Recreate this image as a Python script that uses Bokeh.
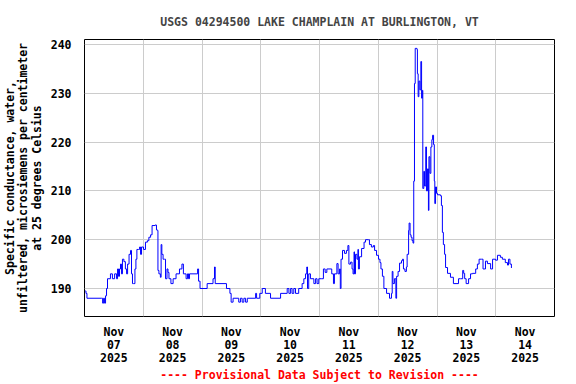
from bokeh.plotting import figure
from bokeh.models import Range1d, FixedTicker
from bokeh.embed import file_html
from bokeh.resources import INLINE

# hours since Nov 07 2025 00:00
hours = [0.3, 0.6, 1.0, 6.9, 7.4, 7.8, 8.2, 8.6, 9.0, 9.4, 10.6, 11.4, 12.3, 13.1, 13.5, 13.9, 14.3, 14.7,
         15.1, 15.5, 16.1, 16.7, 17.2, 17.6, 18.2, 18.8, 19.2, 19.6, 20.0, 20.6, 21.0, 21.4, 22.1, 22.5,
         22.9, 23.3, 24.1, 24.9, 25.7, 26.3, 27.0, 27.6, 28.8, 29.4, 29.8, 30.0, 30.4, 31.0, 31.3, 31.6,
         32.1, 32.7, 33.1, 33.7, 34.1, 34.5, 35.3, 36.2, 37.4, 38.8, 39.8, 40.4, 41.5, 42.1, 42.5, 42.9,
         46.2, 46.6, 47.2, 50.1, 52.5, 53.1, 53.4, 58.0, 59.4, 59.9, 60.7, 63.0, 63.7, 64.4, 65.1, 65.8,
         66.5, 69.9, 70.3, 71.6, 72.6, 73.9, 76.0, 80.1, 82.8, 83.5, 84.2, 84.8, 85.5, 86.2, 87.5, 88.9,
         89.6, 90.3, 90.8, 91.1, 91.6, 92.3, 93.7, 94.4, 95.0, 95.7, 96.7, 97.6, 98.3, 99.0, 101.0, 101.7,
         102.1, 103.1, 103.6, 104.2, 104.5, 104.8, 105.4, 106.2, 107.0, 107.6, 108.0, 108.7, 109.3, 109.7,
         110.1, 110.3, 110.7, 111.3, 111.7, 111.9, 112.3, 113.2, 114.2, 114.8, 116.0, 116.4, 117.2, 118.0,
         118.5, 119.3, 120.1, 120.7, 121.1, 121.7, 122.3, 123.4, 124.6, 125.4, 125.7, 126.0, 126.6, 127.2,
         127.5, 128.1, 128.7, 129.5, 129.9, 130.3, 130.9, 131.5, 131.8, 132.4, 132.6, 133.0, 133.4, 133.8,
         134.2, 134.5, 134.8, 135.1, 135.8, 136.0, 136.3, 136.6, 137.0, 137.4, 137.7, 138.0, 138.2, 138.6,
         138.9, 139.4, 139.7, 140.1, 140.5, 140.7, 141.1, 141.5, 141.9, 142.2, 142.6, 142.9, 143.1, 143.4,
         143.8, 144.2, 145.4, 145.8, 146.2, 146.6, 147.1, 147.5, 148.3, 149.5, 150.7, 152.8, 153.6, 154.5,
         154.9, 155.3, 155.9, 156.9, 157.7, 158.5, 159.8, 160.5, 161.2, 162.2, 162.8, 163.8, 164.6, 165.9,
         166.7, 167.9, 168.7, 169.9, 170.7, 171.9, 172.8, 173.2, 173.8, 174.4]
conductance = [189.5, 189.0, 188.0, 188.0, 187.0, 188.0, 187.0, 188.5, 190.0, 192.0, 193.0, 192.0, 193.0,
               192.0, 194.0, 192.5, 194.0, 195.0, 193.0, 196.0, 195.5, 194.0, 193.0, 195.0, 197.0, 197.8,
               193.0, 191.0, 191.0, 194.0, 196.0, 198.0, 198.0, 198.5, 197.0, 198.5, 198.0, 199.5, 199.8,
               200.5, 201.0, 202.9, 203.0, 202.0, 201.9, 193.7, 193.0, 192.3, 199.0, 197.0, 196.0, 196.0,
               192.0, 194.0, 193.3, 192.0, 191.0, 192.0, 193.0, 194.0, 195.0, 193.0, 192.0, 193.0, 192.0,
               193.0, 194.0, 191.5, 190.0, 191.0, 192.0, 194.4, 191.0, 190.0, 189.0, 187.2, 188.0, 187.2,
               188.0, 187.2, 188.0, 187.2, 188.0, 189.0, 188.0, 189.0, 190.0, 189.0, 188.0, 189.0, 190.0,
               189.0, 190.0, 189.0, 190.0, 189.0, 190.0, 191.0, 192.0, 193.0, 194.4, 190.0, 193.0, 192.0,
               191.0, 192.0, 191.0, 192.0, 192.0, 194.0, 193.3, 194.0, 193.0, 191.0, 193.0, 195.1, 193.0,
               194.0, 190.0, 196.0, 197.8, 197.2, 197.8, 198.8, 195.0, 195.4, 194.0, 193.0, 197.5, 193.0,
               197.0, 196.0, 198.0, 194.0, 196.5, 198.2, 199.5, 200.0, 200.0, 199.0, 198.5, 198.8, 197.8,
               196.8, 196.0, 195.3, 194.0, 192.5, 190.0, 189.0, 188.0, 189.0, 193.5, 191.0, 192.0, 188.0,
               192.5, 193.5, 195.2, 195.7, 196.0, 194.0, 193.5, 194.4, 197.0, 201.9, 203.4, 201.0, 200.5,
               199.8, 199.3, 212.0, 232.0, 239.2, 239.0, 234.0, 229.3, 232.5, 230.7, 236.5, 229.0, 230.6,
               210.5, 214.0, 211.0, 219.0, 210.0, 214.5, 206.0, 217.0, 213.6, 219.0, 220.5, 221.4, 219.5,
               212.0, 207.4, 210.8, 209.5, 209.2, 209.0, 207.0, 201.5, 199.0, 197.0, 194.3, 193.1, 192.3,
               191.0, 192.0, 192.0, 193.7, 193.1, 192.0, 191.0, 192.0, 193.0, 193.1, 194.0, 195.0, 196.0,
               196.0, 194.0, 195.6, 195.1, 194.0, 196.0, 195.8, 196.8, 196.4, 196.0, 195.3, 194.8, 196.0,
               195.0, 194.2]

grid_hours = [24, 48, 72, 96, 120, 144, 168]
label_hours = [12, 36, 60, 84, 108, 132, 156, 180]
label_text = ["Nov\n07\n2025", "Nov\n08\n2025", "Nov\n09\n2025", "Nov\n10\n2025",
              "Nov\n11\n2025", "Nov\n12\n2025", "Nov\n13\n2025", "Nov\n14\n2025"]
y_ticks = [190, 200, 210, 220, 230, 240]

FONT = "DejaVu Sans Mono"
FS = "11.5px"

p = figure(width=576, height=384, output_backend="svg", toolbar_location=None,
           x_range=Range1d(0, 192), y_range=Range1d(184.26, 241.02),
           min_border_left=84, min_border_right=22, min_border_top=39, min_border_bottom=68)

p.step(hours, conductance, mode="after", line_color="#0000ff", line_width=1)

p.title.text = "USGS 04294500 LAKE CHAMPLAIN AT BURLINGTON, VT"
p.title.align = "center"
p.title.text_font = FONT
p.title.text_font_style = "bold"
p.title.text_font_size = FS
p.title.standoff = 22

p.outline_line_color = "black"
p.outline_line_width = 1
p.background_fill_color = "white"
p.border_fill_color = "white"

p.xaxis.ticker = FixedTicker(ticks=label_hours)
p.xaxis.major_label_overrides = {h: t for h, t in zip(label_hours, label_text)}
p.xgrid.ticker = FixedTicker(ticks=grid_hours)
p.yaxis.ticker = FixedTicker(ticks=y_ticks)

for ax in (p.xaxis[0], p.yaxis[0]):
    ax.axis_line_color = None
    ax.major_tick_line_color = None
    ax.minor_tick_line_color = None
    ax.major_label_text_font = FONT
    ax.major_label_text_font_style = "bold"
    ax.major_label_text_font_size = FS
    ax.major_label_text_color = "black"
    ax.axis_label_text_font = FONT
    ax.axis_label_text_font_style = "bold"
    ax.axis_label_text_font_size = FS

p.xaxis.major_label_standoff = 2
p.xaxis.major_label_text_line_height = 0.94
p.xaxis.axis_label = "---- Provisional Data Subject to Revision ----"
p.xaxis.axis_label_text_color = "#ff0000"
p.xaxis.axis_label_standoff = 0

p.yaxis.major_label_standoff = 7
p.yaxis.axis_label = ("Specific conductance, water,\n"
                      "unfiltered, microsiemens per centimeter\n"
                      "at 25 degrees Celsius")
p.yaxis.axis_label_text_color = "black"
p.yaxis.axis_label_text_line_height = 0.95
p.yaxis.axis_label_standoff = 4

p.xgrid.grid_line_color = "#cccccc"
p.ygrid.grid_line_color = "#cccccc"
p.xgrid.grid_line_width = 1
p.ygrid.grid_line_width = 1

open("out.html", "w").write(file_html(p, INLINE))
